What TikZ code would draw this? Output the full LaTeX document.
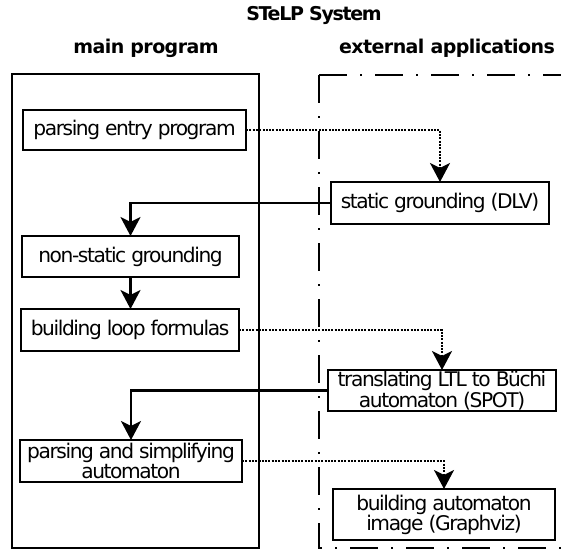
\documentclass[tikz,border=0pt]{standalone}
\usepackage{fontspec}
\setmainfont[LetterSpace=-7]{DejaVu Sans}
\usetikzlibrary{arrows.meta}
\begin{document}
\begin{tikzpicture}[x=1pt,y=-1pt,
  box/.style={draw, line width=2.5pt, inner sep=0pt, outer sep=0pt, align=center,
    font=\fontsize{20.2}{15.7}\selectfont},
  conn/.style={line width=2.2pt, -{Stealth[length=19pt,width=20pt,inset=5pt]}},
  dotconn/.style={conn, dash pattern=on 2pt off 1.3pt},
  hdr/.style={font=\bfseries\fontsize{19}{20}\selectfont, inner sep=0pt},
  subhdr/.style={hdr, font=\bfseries\fontsize{19}{20}\selectfont\addfontfeature{LetterSpace=-3}},
  dashdot/.style={line width=2.2pt, dash pattern=on 28pt off 13pt on 2pt off 13pt}]
\useasboundingbox (0,0) rectangle (561,550);
% headers
\node[hdr, anchor=base] (title) at (314,20) {STeLP System};
\node[subhdr, anchor=base] (hmain) at (146,53) {main program};
\node[subhdr, anchor=base] (hext) at (447,53) {external applications};
% containers
\node[draw, line width=2.2pt, inner sep=0pt, minimum width=247pt, minimum height=474pt] (mainbox) at (135.5,311) {};
\draw[dashdot] (319,75) -- (562,75);
\draw[dashdot] (319,75) -- (319,548) -- (562,548);
% steps
\node[box, minimum width=223pt, minimum height=40pt] (b1) at (134.5,130) {parsing entry program};
\node[box, minimum width=218pt, minimum height=42pt] (b2) at (440,203) {static grounding (DLV)};
\node[box, minimum width=217pt, minimum height=41pt] (b3) at (130.5,256.5) {non-static grounding};
\node[box, minimum width=218pt, minimum height=42pt] (b4) at (130,330) {building loop formulas};
\node[box, minimum width=228pt, minimum height=41pt] (b5) at (442,390.5) {translating LTL to Büchi\\automaton (SPOT)};
\node[box, minimum width=222pt, minimum height=42pt] (b6) at (131,461) {parsing and simplifying\\automaton};
\node[box, minimum width=222pt, minimum height=51pt, font=\fontsize{20.2}{20}\selectfont] (b7) at (444,514.5) {building automaton\\image (Graphviz)};
% connectors
\draw[dotconn] (b1.east) -| (b2.north);
\draw[conn] (b2.west) -| (b3.north);
\draw[conn] (b3.south) -- (b3.south |- b4.north);
\draw[dotconn] (b4.east) -| (b5.north);
\draw[conn] (b5.west) -| (b6.north);
\draw[dotconn] (b6.east) -| (b7.north);
\end{tikzpicture}
\end{document}
